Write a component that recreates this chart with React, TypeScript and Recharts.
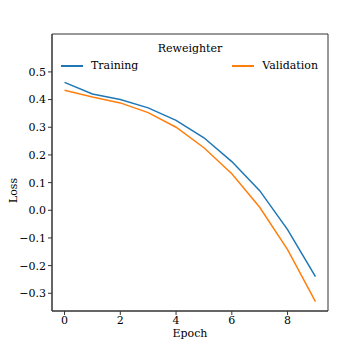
import React from 'react';
import {
  LineChart,
  Line,
  XAxis,
  YAxis,
  ReferenceArea,
} from 'recharts';

const epochs = [0, 1, 2, 3, 4, 5, 6, 7, 8, 9];
const trainingLoss = [0.462, 0.42, 0.4, 0.37, 0.325, 0.262, 0.176, 0.071, -0.07, -0.24];
const validationLoss = [0.434, 0.409, 0.388, 0.353, 0.3, 0.226, 0.132, 0.011, -0.142, -0.33];
const xTicks = [0, 2, 4, 6, 8];
const yTicks = [-0.3, -0.2, -0.1, 0.0, 0.1, 0.2, 0.3, 0.4, 0.5];

const chartData = epochs.map((e, i) => ({
  epoch: e,
  training: trainingLoss[i],
  validation: validationLoss[i],
}));

const X_DOMAIN: [number, number] = [-0.45, 9.45];
const Y_DOMAIN: [number, number] = [-0.364, 0.637];

const FONT = '"DejaVu Serif", serif';
const FS = 11;
const SPINE = '#333';
const INK = '#000';

const fmtY = (v: number) => {
  const s = (Math.abs(v) < 1e-9 ? 0 : v).toFixed(1);
  return s.replace('-', '\u2212');
};

// matplotlib puts the ylabel a bit below the axes centre here
const LossLabel = ({ viewBox }: any) => {
  const cx = 13;
  const cy = viewBox.y + viewBox.height / 2 + 18;
  return (
    <text
      x={cx}
      y={cy}
      transform={`rotate(-90, ${cx}, ${cy})`}
      textAnchor="middle"
      dominantBaseline="central"
      fill={INK}
      fontSize={FS}
      fontFamily={FONT}
    >
      Loss
    </text>
  );
};

// legend + title sit inside the axes box, like matplotlib's legend(title=...)
const LegendBox = () => (
  <div style={{ position: 'absolute', left: 52, top: 42, width: 276, height: 40, fontFamily: FONT, fontSize: FS, color: INK, lineHeight: '14px' }}>
    <div style={{ position: 'absolute', left: 0, right: 0, top: 0, textAlign: 'center' }}>Reweighter</div>
    <div style={{ position: 'absolute', left: 9, top: 17, display: 'flex', alignItems: 'center' }}>
      <span style={{ display: 'inline-block', width: 22, height: 2, background: '#1f77b4', marginRight: 8 }} />
      <span>Training</span>
    </div>
    <div style={{ position: 'absolute', right: 10, top: 17, display: 'flex', alignItems: 'center' }}>
      <span style={{ display: 'inline-block', width: 22, height: 2, background: '#ff7f0e', marginRight: 8 }} />
      <span>Validation</span>
    </div>
  </div>
);

export default function App() {
  return (
    <div style={{ position: 'absolute', left: 0, top: 0, width: 346, height: 346, background: '#fff' }}>
      <LineChart
        width={346}
        height={346}
        data={chartData}
        margin={{ top: 34, right: 18, left: 0, bottom: 0 }}
      >
        <XAxis
          dataKey="epoch"
          type="number"
          domain={X_DOMAIN}
          ticks={xTicks}
          allowDataOverflow
          height={35}
          tickSize={4}
          tickMargin={1}
          stroke={SPINE}
          tick={{ fill: INK, fontSize: FS, fontFamily: FONT }}
          label={{ value: 'Epoch', position: 'insideBottom', offset: 9, fill: INK, fontSize: FS, fontFamily: FONT }}
        />
        <YAxis
          type="number"
          domain={Y_DOMAIN}
          ticks={yTicks}
          allowDataOverflow
          width={52}
          tickSize={4}
          tickMargin={2}
          tickFormatter={fmtY}
          stroke={SPINE}
          tick={{ fill: INK, fontSize: FS, fontFamily: FONT }}
          label={<LossLabel />}
        />
        <ReferenceArea
          x1={X_DOMAIN[0]}
          x2={X_DOMAIN[1]}
          y1={Y_DOMAIN[0]}
          y2={Y_DOMAIN[1]}
          fill="none"
          stroke={SPINE}
          strokeWidth={1}
          ifOverflow="visible"
        />
        <Line type="linear" dataKey="training" stroke="#1f77b4" strokeWidth={1.5} dot={false} isAnimationActive={false} />
        <Line type="linear" dataKey="validation" stroke="#ff7f0e" strokeWidth={1.5} dot={false} isAnimationActive={false} />
      </LineChart>
      <LegendBox />
    </div>
  );
}
